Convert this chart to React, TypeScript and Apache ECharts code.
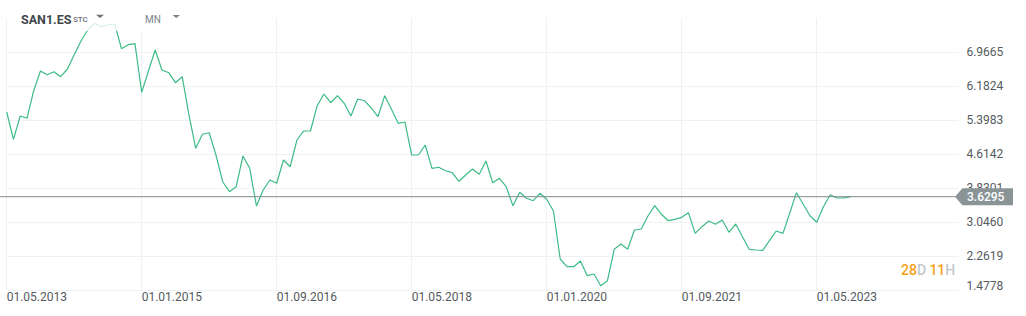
import React, { useEffect, useRef } from 'react';
import * as echarts from 'echarts';

// ---- data ----
const START_YEAR = 2013;
const START_MONTH = 5; // May
const CATEGORY_COUNT = 142; // monthly slots shown on the axis (data + empty space on the right)

const prices: number[] = [
  5.583, 4.953, 5.491, 5.438, 6.074, 6.528, 6.443, 6.512, 6.397, 6.574,
  6.904, 7.22, 7.474, 7.628, 7.55, 7.589, 7.612, 7.043, 7.135, 7.158,
  6.037, 6.528, 7.013, 6.551, 6.489, 6.259, 6.397, 5.514, 4.746, 5.069,
  5.105, 4.591, 3.975, 3.745, 3.86, 4.568, 4.284, 3.415, 3.784, 4.015,
  3.939, 4.476, 4.321, 4.937, 5.145, 5.145, 5.728, 5.998, 5.797, 5.959,
  5.783, 5.491, 5.883, 5.843, 5.675, 5.474, 5.959, 5.645, 5.322, 5.352,
  4.591, 4.591, 4.822, 4.284, 4.308, 4.229, 4.183, 3.985, 4.13, 4.268,
  4.146, 4.453, 3.952, 4.054, 3.86, 3.422, 3.731, 3.593, 3.537, 3.708,
  3.57, 3.3, 2.193, 2.015, 2.015, 2.147, 1.808, 1.847, 1.577, 1.692,
  2.416, 2.539, 2.416, 2.862, 2.885, 3.184, 3.422, 3.224, 3.076, 3.108,
  3.154, 3.26, 2.785, 2.938, 3.069, 2.993, 3.092, 2.808, 3.0, 2.707,
  2.416, 2.4, 2.393, 2.615, 2.839, 2.785, 3.247, 3.722, 3.454, 3.191,
  3.039, 3.399, 3.676, 3.599, 3.599, 3.6295,
];

const yTicks: number[] = [1.4778, 2.2619, 3.046, 3.8301, 4.6142, 5.3983, 6.1824, 6.9665];
const yMin = 1.4778;
const yMax = 7.7506;
const xLabelEvery = 20;
const xLastLabelIndex = 120;

const symbolName = 'SAN1.ES';
const symbolType = 'STC';
const periodName = 'MN';
const countdownDays = '28';
const countdownHours = '11';

const LINE_COLOR = '#3dbb86';
const GRID_COLOR = '#f0f1f2';
const LABEL_COLOR = '#555b60';
const PRICE_BG = '#8a9497';
const FONT = 'Roboto, "Noto Sans", sans-serif';

function monthLabel(i: number): string {
  const m0 = START_MONTH - 1 + i;
  const y = START_YEAR + Math.floor(m0 / 12);
  const m = (m0 % 12) + 1;
  return '01.' + String(m).padStart(2, '0') + '.' + y;
}
const categories: string[] = Array.from({ length: CATEGORY_COUNT }, (_, i) => monthLabel(i));

const showX = (index: number) => index % xLabelEvery === 0 && index <= xLastLabelIndex;

export default function App() {
  const ref = useRef<HTMLDivElement>(null);

  useEffect(() => {
    if (!ref.current) return;
    const chart = echarts.init(ref.current, undefined, { renderer: 'svg' });
    const lastPrice = prices[prices.length - 1];

    chart.setOption({
      animation: false,
      backgroundColor: '#ffffff',
      grid: { left: 6.7, right: 67.55, top: 18, bottom: 26, containLabel: false },
      xAxis: {
        type: 'category',
        data: categories,
        boundaryGap: false,
        axisLine: { show: false },
        axisTick: { show: false },
        axisLabel: {
          interval: (index: number) => showX(index),
          align: 'left',
          margin: 1,
          color: LABEL_COLOR,
          fontSize: 12,
          fontFamily: FONT,
        },
        splitLine: {
          show: true,
          interval: (index: number) => showX(index),
          lineStyle: { color: GRID_COLOR, width: 1 },
        },
      },
      yAxis: {
        type: 'value',
        position: 'right',
        min: yMin,
        max: yMax,
        axisLine: { show: false },
        axisTick: { show: false, customValues: yTicks },
        axisLabel: {
          customValues: yTicks,
          margin: 8,
          color: LABEL_COLOR,
          fontSize: 12,
          fontFamily: FONT,
          formatter: (v: number) => {
            const s = v.toFixed(4);
            return Math.abs(v - yMin) < 1e-6 ? '{low|' + s + '}' : s;
          },
          rich: {
            low: {
              color: LABEL_COLOR,
              fontSize: 12,
              fontFamily: FONT,
              padding: [0, 0, 8, 0],
            },
          },
        },
        splitLine: { show: true, lineStyle: { color: GRID_COLOR, width: 1 } },
      },
      series: [
        {
          type: 'line',
          data: prices,
          symbol: 'none',
          lineStyle: { color: LINE_COLOR, width: 1.2 },
          itemStyle: { color: LINE_COLOR },
          z: 2,
        },
      ],
    });

    const py = chart.convertToPixel({ yAxisIndex: 0 }, lastPrice) as number;
    const gx = chart.convertToPixel({ xAxisIndex: 0 }, CATEGORY_COUNT - 1) as number;
    const tip = gx - 3.5;
    const h = 8.5;

    chart.setOption({
      graphic: [
        {
          type: 'line',
          z: 50,
          shape: { x1: 0, y1: py, x2: tip, y2: py },
          style: { stroke: '#7f8a8d', lineWidth: 1 },
        },
        {
          type: 'polygon',
          z: 100,
          shape: {
            points: [
              [tip, py],
              [tip + 7.5, py - h],
              [1013, py - h],
              [1013, py + h],
              [tip + 7.5, py + h],
            ],
          },
          style: { fill: PRICE_BG },
        },
        {
          type: 'text',
          z: 101,
          x: 967,
          y: py,
          style: {
            text: lastPrice.toFixed(4),
            fill: '#ffffff',
            font: '500 12px ' + FONT,
            verticalAlign: 'middle',
            align: 'left',
          },
        },
        // header overlay
        {
          type: 'rect',
          z: 100,
          shape: { x: 10, y: 0, width: 185, height: 31 },
          style: { fill: 'rgba(255,255,255,0.78)' },
        },
        {
          type: 'text',
          z: 101,
          x: 21,
          y: 19,
          style: {
            text: symbolName,
            fill: '#3f474d',
            font: 'bold 12.5px ' + FONT,
            verticalAlign: 'middle',
          },
        },
        {
          type: 'text',
          z: 101,
          x: 73,
          y: 19.5,
          style: {
            text: symbolType,
            fill: '#6b7378',
            font: '500 8px ' + FONT,
            verticalAlign: 'middle',
          },
        },
        {
          type: 'polygon',
          z: 101,
          shape: { points: [[96, 14.8], [104, 14.8], [100, 18]] },
          style: { fill: '#6b7378' },
        },
        {
          type: 'text',
          z: 101,
          x: 145,
          y: 19.5,
          style: {
            text: periodName,
            fill: '#7a8288',
            font: '10px ' + FONT,
            verticalAlign: 'middle',
          },
        },
        {
          type: 'polygon',
          z: 101,
          shape: { points: [[172.5, 15], [180, 15], [176.2, 18]] },
          style: { fill: '#7a8288' },
        },
        // countdown
        {
          type: 'text',
          z: 101,
          x: 901,
          y: 270,
          style: {
            text: '{o|' + countdownDays + '}{g|D} {o|' + countdownHours + '}{g|H}',
            verticalAlign: 'middle',
            rich: {
              o: { fill: '#f5a21b', font: '500 14px ' + FONT },
              g: { fill: '#c2c8cc', font: '500 14px ' + FONT },
            },
          },
        },
      ],
    });

    return () => chart.dispose();
  }, []);

  return (
    <div
      ref={ref}
      style={{ position: 'fixed', left: 0, top: 0, width: '1026px', height: '316px' }}
    />
  );
}
